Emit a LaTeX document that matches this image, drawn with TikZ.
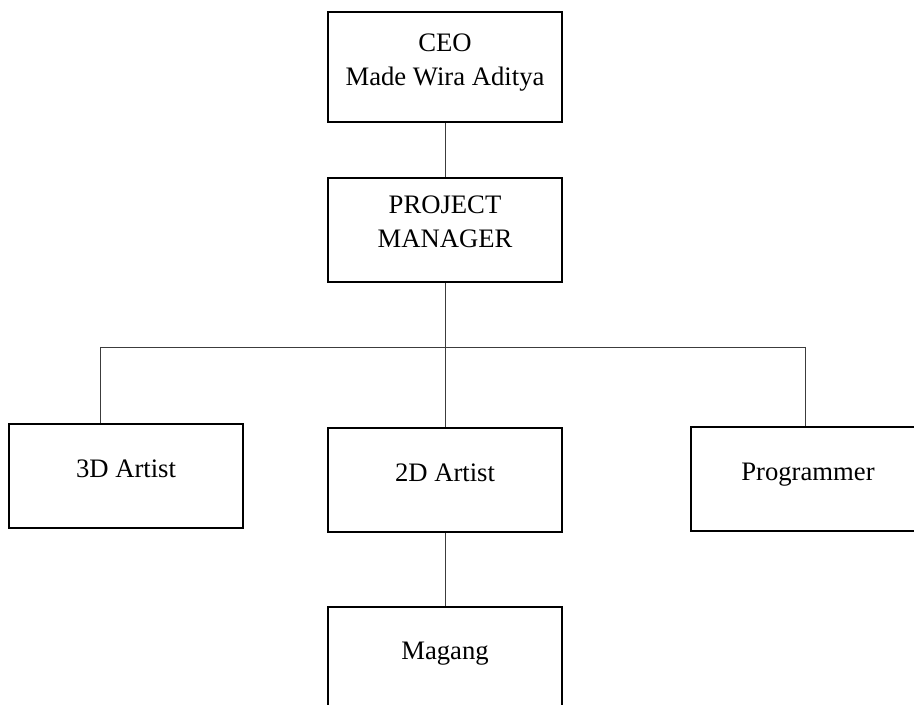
\documentclass[tikz,border=0pt]{standalone}
\usepackage{fontspec}
\setmainfont{Liberation Serif}
\usetikzlibrary{calc}
\definecolor{linecolor}{RGB}{60,60,60}

\begin{document}
\begin{tikzpicture}[x=0.75pt, y=-0.75pt,
    box/.style={draw, line width=1.4pt, minimum width=175.5pt, minimum height=78pt, inner sep=0pt},
    boxtext/.style={font=\fontsize{20}{25}\selectfont, inner sep=0pt, align=center},
    link/.style={draw=linecolor, line width=0.7pt}]
    \useasboundingbox (0,0) rectangle (914,705);
    \clip (0,0) rectangle (914,705);

    % Boxes
    \node[box, minimum height=82.5pt] (ceo) at (445,67) {};
    \node[box] (pm) at (445,230) {};
    \node[box] (art3d) at (126,476) {};
    \node[box] (art2d) at (445,480) {};
    \node[box] (prog) at (808,479) {};
    \node[box] (magang) at (445,659) {};

    % Texts
    \node[boxtext, anchor=north] (ceo text) at ($(ceo.north)+(0,23)$) {CEO\\Made Wira Aditya};
    \node[boxtext, anchor=north] (pm text) at ($(pm.north)+(0,19)$) {PROJECT\\MANAGER};
    \node[boxtext, anchor=base] (art3d text) at ($(art3d.north)+(0,54)$) {3D Artist};
    \node[boxtext, anchor=base] (art2d text) at ($(art2d.north)+(0,54)$) {2D Artist};
    \node[boxtext, anchor=base] (prog text) at ($(prog.north)+(0,54)$) {Programmer};
    \node[boxtext, anchor=base] (magang text) at ($(magang.north)+(0,53)$) {Magang};

    % Links
    \coordinate (bar l) at (100,347);
    \coordinate (bar r) at (805,347);
    \draw[link] (ceo) -- (pm);
    \draw[link] (pm) -- (art2d);
    \draw[link] (bar l) -- (bar r);
    \draw[link] (bar l) -- (bar l |- art3d.north);
    \draw[link] (bar r) -- (bar r |- prog.north);
    \draw[link] (art2d) -- (magang);
\end{tikzpicture}
\end{document}
